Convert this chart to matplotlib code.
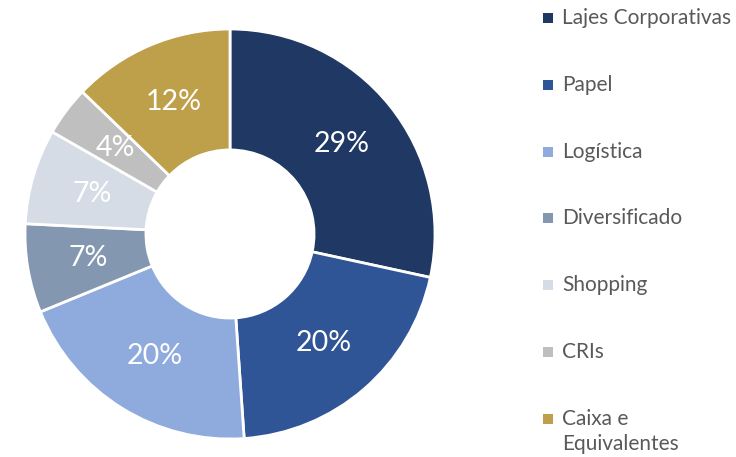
import matplotlib.pyplot as plt
import numpy as np
from matplotlib.patches import Rectangle

categorias = ['Lajes Corporativas', 'Papel', 'Logística', 'Diversificado',
              'Shopping', 'CRIs', 'Caixa e\nEquivalentes']
valores = [28.4, 20.5, 19.9, 7.0, 7.5, 3.9, 12.8]
rotulos = ['29%', '20%', '20%', '7%', '7%', '4%', '12%']
cores = ['#203864', '#2F5597', '#8FAADC', '#8497B0', '#D6DCE5', '#BFBFBF', '#BFA04A']

plt.rcParams['font.family'] = ['Lato', 'DejaVu Sans']

fig = plt.figure(figsize=(7.36, 4.57), dpi=100)
ax = fig.add_axes([25 / 736, 18 / 457, 410 / 736, 410 / 457])

wedges, _ = ax.pie(valores, colors=cores, startangle=90, counterclock=False,
                   radius=1.0, wedgeprops=dict(width=0.59, edgecolor='white', linewidth=2))

# rótulos percentuais no meio do anel
for w, txt in zip(wedges, rotulos):
    ang = np.deg2rad((w.theta1 + w.theta2) / 2)
    r = 0.70
    ax.text(r * np.cos(ang), r * np.sin(ang), txt, ha='center', va='center',
            color='white', fontsize=20.5)

ax.set_xlim(-1, 1)
ax.set_ylim(-1, 1)
ax.axis('off')

# legenda manual
y0 = 18
passo = 66.8
for i, (nome, cor) in enumerate(zip(categorias, cores)):
    yc = y0 + i * passo
    fig.patches.append(Rectangle((543 / 736, 1 - (yc + 5) / 457), 10 / 736, 10 / 457,
                                 transform=fig.transFigure, facecolor=cor, edgecolor='none'))
    fig.text(562 / 736, 1 - (yc - 10) / 457, nome, ha='left', va='top',
             fontsize=15, color='#595959', linespacing=1.3)

fig.savefig('out.png', dpi=100)
